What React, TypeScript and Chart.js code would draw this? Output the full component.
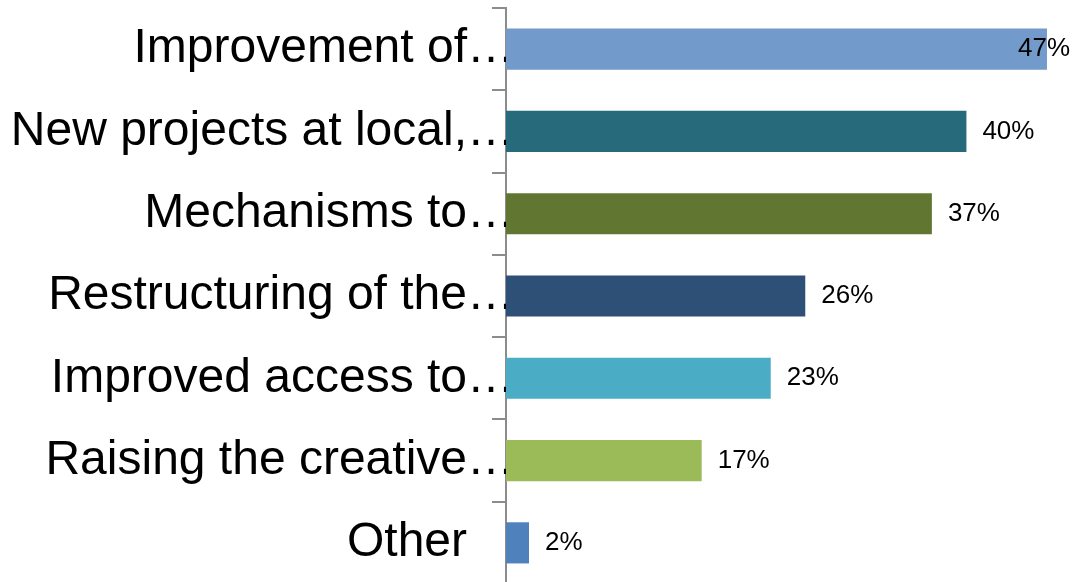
import React, { useEffect, useRef } from "react";
import { Chart, registerables } from "chart.js";

Chart.register(...registerables);

const categories = [
  "Improvement of…",
  "New projects at local,…",
  "Mechanisms to…",
  "Restructuring of the…",
  "Improved access to…",
  "Raising the creative…",
  "Other\u2003",
];
const values = [47, 40, 37, 26, 23, 17, 2];
const barColors = ["#729ACA", "#276A7C", "#617731", "#2E5077", "#4BACC6", "#9BBB59", "#4F81BD"];
const valueLabels = ["47%", "40%", "37%", "26%", "23%", "17%", "2%"];

const FONT = "'Liberation Sans', Arial, sans-serif";

const valueLabelPlugin = {
  id: "valueLabels",
  afterDatasetsDraw(chart: any) {
    const ctx = chart.ctx;
    const meta = chart.getDatasetMeta(0);
    const area = chart.chartArea;
    ctx.save();
    ctx.font = `26px ${FONT}`;
    ctx.fillStyle = "#000";
    ctx.textBaseline = "middle";
    ctx.textAlign = "left";
    meta.data.forEach((bar: any, i: number) => {
      const text = valueLabels[i];
      const w = ctx.measureText(text).width;
      const x = Math.min(bar.x + 16, area.right - w);
      ctx.fillText(text, x, bar.y);
    });
    ctx.restore();
  },
};

export default function App() {
  const ref = useRef<HTMLCanvasElement>(null);
  useEffect(() => {
    if (!ref.current) return;
    const chart = new Chart(ref.current, {
      type: "bar",
      data: {
        labels: categories,
        datasets: [
          {
            data: values,
            backgroundColor: barColors,
            borderWidth: 0,
            barPercentage: 0.5,
            categoryPercentage: 1,
          },
        ],
      },
      options: {
        indexAxis: "y",
        animation: false,
        responsive: false,
        maintainAspectRatio: false,
        layout: { padding: { top: 8, bottom: 2, left: 0, right: 8 } },
        plugins: { legend: { display: false }, tooltip: { enabled: false } },
        scales: {
          x: { display: false, min: 0, max: 49 },
          y: {
            offset: true,
            afterFit: (s: any) => {
              s.width = 506;
            },
            border: { display: true, color: "#8C8C8C", width: 2 },
            grid: {
              display: true,
              drawOnChartArea: false,
              drawTicks: true,
              tickLength: 14,
              color: "#8C8C8C",
              lineWidth: 2,
              offset: true,
            },
            ticks: {
              color: "#000",
              padding: -23,
              autoSkip: false,
              font: { family: FONT, size: 48, lineHeight: 1 },
            },
          },
        },
      },
      plugins: [valueLabelPlugin],
    });
    return () => chart.destroy();
  }, []);
  return (
    <div style={{ position: "fixed", left: 0, top: 0, width: 1078, height: 582, overflow: "hidden", background: "#fff" }}>
      <canvas ref={ref} width={1078} height={586} style={{ display: "block", width: 1078, height: 586 }} />
    </div>
  );
}
